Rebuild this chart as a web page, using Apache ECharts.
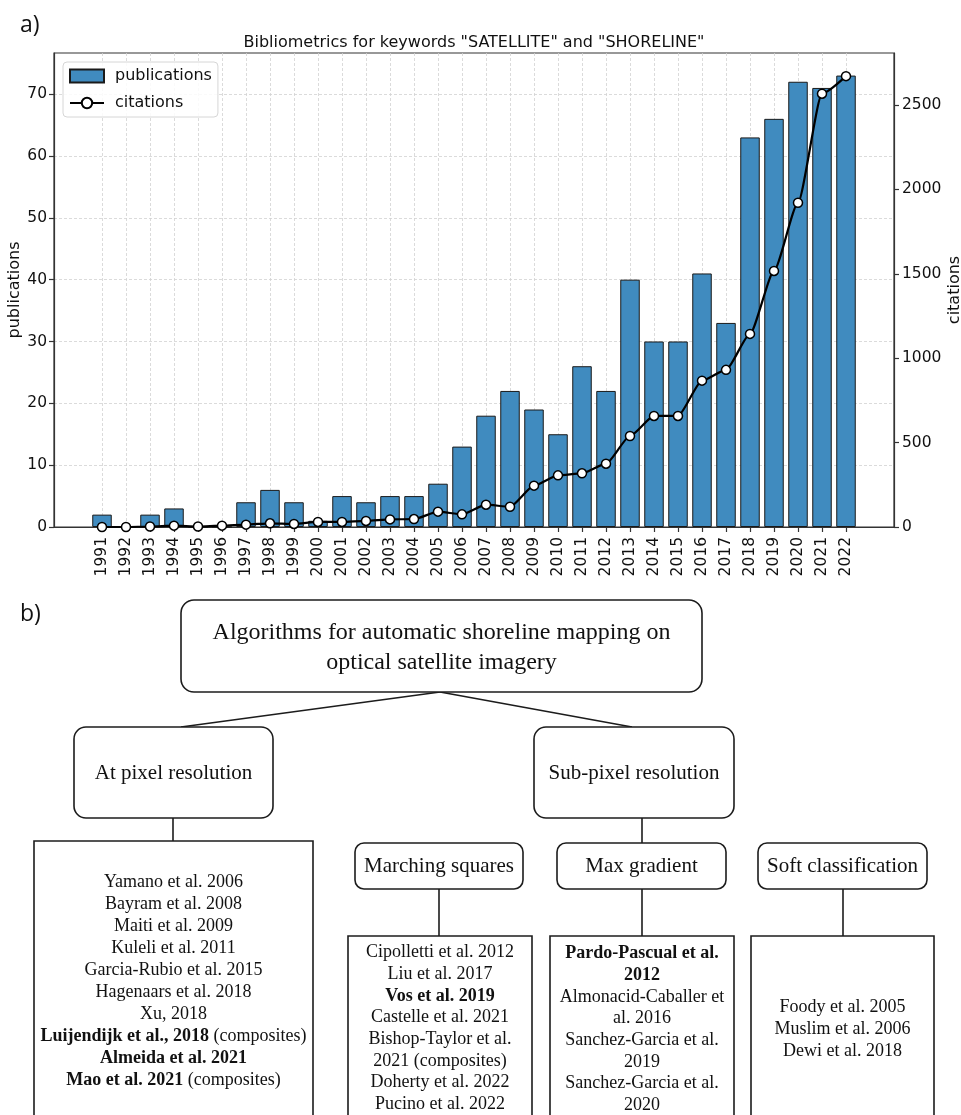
<!DOCTYPE html>
<html><head><meta charset="utf-8">
<script src="https://cdn.jsdelivr.net/npm/echarts@6/dist/echarts.min.js"></script>
<style>html,body{margin:0;padding:0;background:#fff}#c{width:961px;height:1115px}</style>
</head><body><div id="c"></div>
<script>
// ---------- data ----------
const years = [1991,1992,1993,1994,1995,1996,1997,1998,1999,2000,2001,2002,2003,2004,2005,2006,2007,2008,2009,2010,2011,2012,2013,2014,2015,2016,2017,2018,2019,2020,2021,2022];
const publications = [2,0,2,3,0,0,4,6,4,1,5,4,5,5,7,13,18,22,19,15,26,22,40,30,30,41,33,63,66,72,71,73];
const citations = [0,0,3,8,3,8,14,22,18,30,30,36,45,47,91,75,132,120,245,306,318,375,539,658,658,867,931,1144,1517,1921,2567,2671];
const pubTicks = [0,10,20,30,40,50,60,70];
const citTicks = [0,500,1000,1500,2000,2500];
const chartTitle = 'Bibliometrics for keywords "SATELLITE" and "SHORELINE"';

// ---------- diagram text ----------
const rootLabel = ['Algorithms for automatic shoreline mapping on', 'optical satellite imagery'];
const level1Labels = ['At pixel resolution', 'Sub-pixel resolution'];
const methodLabels = ['Marching squares', 'Max gradient', 'Soft classification'];
const pixelRefs = ['Yamano et al. 2006','Bayram et al. 2008','Maiti et al. 2009','Kuleli et al. 2011','Garcia-Rubio et al. 2015','Hagenaars et al. 2018','Xu, 2018','{b|Luijendijk et al., 2018} (composites)','{b|Almeida et al. 2021}','{b|Mao et al. 2021} (composites)'];
const marchingRefs = ['Cipolletti et al. 2012','Liu et al. 2017','{b|Vos et al. 2019}','Castelle et al. 2021','Bishop-Taylor et al.','2021 (composites)','Doherty et al. 2022','Pucino et al. 2022'];
const gradientRefs = ['{b|Pardo-Pascual et al.}','{b|2012}','Almonacid-Caballer et','al. 2016','Sanchez-Garcia et al.','2019','Sanchez-Garcia et al.','2020'];
const softRefs = ['Foody et al. 2005','Muslim et al. 2006','Dewi et al. 2018'];

// ---------- styling / layout ----------
const F = 'DejaVu Sans';
const SERIF = 'Liberation Serif';
const INK = '#1c1c1c';
const AX = '#333';
const GRIDC = '#d2d2d2';

function box(x, y, w, h, r) {
  return {type: 'rect', silent: true, shape: {x: x, y: y, width: w, height: h, r: r}, style: {fill: '#fff', stroke: INK, lineWidth: 1.6}};
}
function seg(x1, y1, x2, y2) {
  return {type: 'line', silent: true, shape: {x1: x1, y1: y1, x2: x2, y2: y2}, style: {stroke: INK, lineWidth: 1.6}};
}
function txt(x, y, text, size) {
  return {type: 'text', silent: true, x: x, y: y, z: 10, style: {
    text: text, fontFamily: SERIF, fontSize: size, fill: '#111',
    align: 'center', verticalAlign: 'middle', textAlign: 'center', textVerticalAlign: 'middle',
    rich: {b: {fontFamily: SERIF, fontSize: size, fontWeight: 'bold', fill: '#111'}}
  }};
}
function lines(cx, y0, lh, arr, size) {
  return arr.map(function (t, i) { return txt(cx, y0 + i * lh, t, size); });
}

const graphics = [];
graphics.push({type: 'text', silent: true, x: 20, y: 25, style: {text: 'a)', fontFamily: 'Open Sans', fontSize: 23, fill: '#111', align: 'left', verticalAlign: 'middle', textAlign: 'left', textVerticalAlign: 'middle'}});
graphics.push({type: 'text', silent: true, x: 20, y: 614, style: {text: 'b)', fontFamily: 'Open Sans', fontSize: 23, fill: '#111', align: 'left', verticalAlign: 'middle', textAlign: 'left', textVerticalAlign: 'middle'}});
// connectors
graphics.push(seg(440, 692, 181, 727), seg(440, 692, 632, 727));
graphics.push(seg(173, 818, 173, 841), seg(642, 818, 642, 843));
graphics.push(seg(439, 889, 439, 936), seg(642, 889, 642, 936), seg(843, 889, 843, 936));
// boxes
graphics.push(box(181, 600, 521, 92, 13));
graphics.push(box(74, 727, 199, 91, 12), box(534, 727, 200, 91, 12));
graphics.push(box(34, 841, 279, 300, 0));
graphics.push(box(355, 843, 168, 46, 9), box(557, 843, 169, 46, 9), box(758, 843, 169, 46, 9));
graphics.push(box(348, 936, 184, 200, 0), box(550, 936, 184, 200, 0), box(751, 936, 183, 200, 0));
// texts
graphics.push.apply(graphics, lines(441.5, 632.5, 30.5, rootLabel, 24));
graphics.push(txt(173.5, 773, level1Labels[0], 21), txt(634, 773, level1Labels[1], 21));
graphics.push(txt(439, 866, methodLabels[0], 21), txt(641.5, 866, methodLabels[1], 21), txt(842.5, 866, methodLabels[2], 21));
graphics.push.apply(graphics, lines(173.5, 882.5, 22, pixelRefs, 18));
graphics.push.apply(graphics, lines(440, 952.5, 21.7, marchingRefs, 18));
graphics.push.apply(graphics, lines(642, 953.5, 21.7, gradientRefs, 18));
graphics.push.apply(graphics, lines(842.5, 1007.5, 21.7, softRefs, 18));

const chart = echarts.init(document.getElementById('c'), null, {renderer: 'canvas'});
const plain = function (v) { return String(v); };
const option = {
  animation: false,
  backgroundColor: '#fff',
  title: {
    text: chartTitle, left: 474, top: 35, textAlign: 'center', padding: 0,
    textStyle: {fontFamily: F, fontSize: 16, fontWeight: 'normal', color: '#111'}
  },
  legend: {
    orient: 'vertical', left: 63, top: 62, padding: [6, 6, 6, 6], itemGap: 11,
    itemWidth: 34, itemHeight: 13, selectedMode: false,
    backgroundColor: 'rgba(255,255,255,0.85)', borderColor: '#d6d6d6', borderWidth: 1, borderRadius: 4,
    textStyle: {fontFamily: F, fontSize: 16, color: '#111', padding: [0, 0, 0, 6]},
    data: [{name: 'publications', icon: 'rect'}, {name: 'citations'}]
  },
  grid: {left: 54, top: 53, width: 840, height: 474, show: true, borderColor: AX, borderWidth: 1.2, containLabel: false, outerBoundsMode: 'none'},
  xAxis: {
    type: 'value', min: 1989, max: 2024, interval: 1,
    axisLine: {show: true, onZero: false, lineStyle: {color: AX, width: 1.2}},
    axisTick: {show: true, customValues: years, length: 5, lineStyle: {color: AX, width: 1.2}},
    axisLabel: {customValues: years, rotate: 90, margin: 10, fontFamily: F, fontSize: 15.5, color: '#111', formatter: plain},
    splitLine: {show: true, lineStyle: {color: GRIDC, type: [3, 2], width: 0.8}}
  },
  yAxis: [{
    type: 'value', min: 0, max: 76.65, interval: 10, position: 'left',
    name: 'publications', nameLocation: 'middle', nameGap: 31, nameMoveOverlap: false,
    nameTextStyle: {fontFamily: F, fontSize: 16, color: '#111'},
    axisLine: {show: true, lineStyle: {color: AX, width: 1.2}},
    axisTick: {show: true, customValues: pubTicks, length: 5, lineStyle: {color: AX, width: 1.2}},
    axisLabel: {customValues: pubTicks, margin: 7, fontFamily: F, fontSize: 15.5, color: '#111', formatter: plain},
    splitLine: {show: true, lineStyle: {color: GRIDC, type: [3, 2], width: 0.8}}
  }, {
    type: 'value', min: 0, max: 2808, interval: 500, position: 'right',
    name: 'citations', nameLocation: 'middle', nameGap: 53, nameMoveOverlap: false,
    nameTextStyle: {fontFamily: F, fontSize: 16, color: '#111'},
    axisLine: {show: true, lineStyle: {color: AX, width: 1.2}},
    axisTick: {show: true, customValues: citTicks, length: 5, lineStyle: {color: AX, width: 1.2}},
    axisLabel: {customValues: citTicks, margin: 8, fontFamily: F, fontSize: 15.5, color: '#111', formatter: plain},
    splitLine: {show: false}
  }],
  series: [{
    name: 'publications', type: 'bar', barWidth: 19.5,
    data: years.map(function (y, i) { return [y, publications[i]]; }),
    itemStyle: {color: '#408bbf', borderColor: '#1a1a1a', borderWidth: 1},
    z: 2
  }, {
    name: 'citations', type: 'line', yAxisIndex: 1, smooth: 0.2, smoothMonotone: 'x',
    data: years.map(function (y, i) { return [y, citations[i]]; }),
    symbol: 'circle', symbolSize: 9, showAllSymbol: true,
    lineStyle: {color: '#000', width: 2.2},
    itemStyle: {color: '#fff', borderColor: '#000', borderWidth: 1.5},
    z: 3
  }],
  graphic: {elements: graphics}
};
chart.setOption(option);
</script>
</body></html>
